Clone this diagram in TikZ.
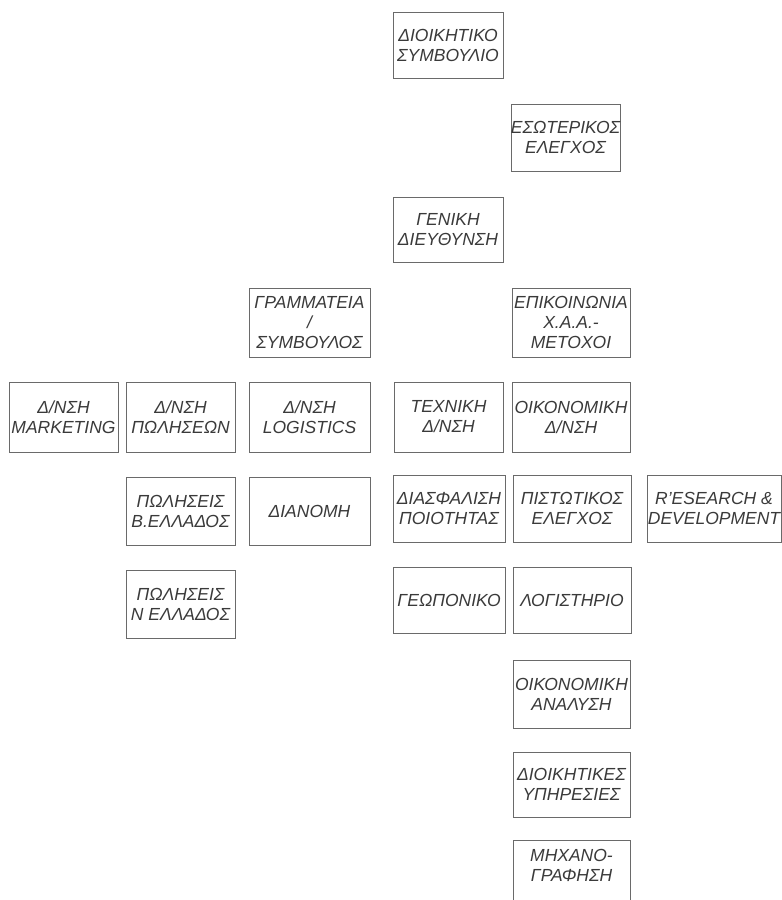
\documentclass[tikz,border=0pt]{standalone}
\usepackage{fontspec}
\setmainfont{Liberation Sans}
\definecolor{boxline}{HTML}{6A6A6A}
\definecolor{boxtext}{HTML}{3A3A3A}
\tikzset{
  orgbox/.style={draw=boxline, line width=0.8pt, inner sep=0pt},
  orglbl/.style={text=boxtext, align=center, inner sep=0pt,
    font=\fontsize{17.5}{20}\selectfont\itshape}
}
\newcommand\orgbox[6]{%
  \node[orgbox, minimum width={#4-#2}, minimum height={#5-#3}] (#1)
    at ({(#2+#4)/2},{-(#3+#5)/2}) {};
  \node[orglbl] (#1t) at (#1.center) {#6};}
\begin{document}
\begin{tikzpicture}[x=1pt,y=1pt]
\useasboundingbox (0,0) rectangle (782,-900);
\orgbox{b1}{393}{12}{503}{78}{ΔΙΟΙΚΗΤΙΚΟ\\ΣΥΜΒΟΥΛΙΟ}
\orgbox{b2}{511}{104}{620}{171}{ΕΣΩΤΕΡΙΚΟΣ\\ΕΛΕΓΧΟΣ}
\orgbox{b3}{393}{197}{503}{262}{ΓΕΝΙΚΗ\\ΔΙΕΥΘΥΝΣΗ}
\orgbox{b4}{249}{288}{370}{357}{ΓΡΑΜΜΑΤΕΙΑ\\/\\ΣΥΜΒΟΥΛΟΣ}
\orgbox{b5}{512}{288}{630}{357}{ΕΠΙΚΟΙΝΩΝΙΑ\\Χ.Α.Α.-\\ΜΕΤΟΧΟΙ}
\orgbox{b6}{249}{382}{370}{452}{Δ/ΝΣΗ\\LOGISTICS}
\orgbox{b7}{394}{382}{503}{452}{ΤΕΧΝΙΚΗ\\Δ/ΝΣΗ}
\orgbox{b8}{512}{382}{630}{452}{ΟΙΚΟΝΟΜΙΚΗ\\Δ/ΝΣΗ}
\orgbox{b9}{9}{382}{118}{452}{Δ/ΝΣΗ\\MARKETING}
\orgbox{b10}{126}{382}{235}{452}{Δ/ΝΣΗ\\ΠΩΛΗΣΕΩΝ}
\orgbox{b11}{126}{477}{235}{545}{ΠΩΛΗΣΕΙΣ\\Β.ΕΛΛΑΔΟΣ}
\orgbox{b12}{249}{477}{370}{545}{ΔΙΑΝΟΜΗ}
\orgbox{b13}{126}{570}{235}{638}{ΠΩΛΗΣΕΙΣ\\Ν ΕΛΛΑΔΟΣ}
\orgbox{b14}{393}{475}{505}{542}{ΔΙΑΣΦΑΛΙΣΗ\\ΠΟΙΟΤΗΤΑΣ}
\orgbox{b15}{513}{475}{631}{542}{ΠΙΣΤΩΤΙΚΟΣ\\ΕΛΕΓΧΟΣ}
\orgbox{b16}{647}{475}{781}{542}{R'ESEARCH \&\\DEVELOPMENT}
\orgbox{b17}{393}{567}{505}{633}{ΓΕΩΠΟΝΙΚΟ}
\orgbox{b18}{513}{567}{631}{633}{ΛΟΓΙΣΤΗΡΙΟ}
\orgbox{b19}{513}{660}{630}{728}{ΟΙΚΟΝΟΜΙΚΗ\\ΑΝΑΛΥΣΗ}
\orgbox{b20}{513}{752}{630}{817}{ΔΙΟΙΚΗΤΙΚΕΣ\\ΥΠΗΡΕΣΙΕΣ}
\node[orgbox, minimum width=117, minimum height=80] (b21) at (571.5,-880) {};
\node[orglbl] (b21t) at ([yshift=-26]b21.north) {ΜΗΧΑΝΟ-\\ΓΡΑΦΗΣΗ};
\end{tikzpicture}
\end{document}
